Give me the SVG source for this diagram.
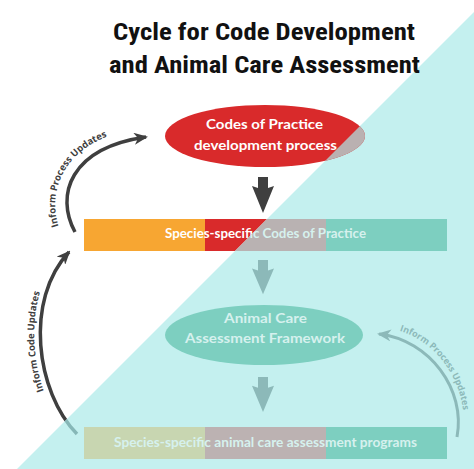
<svg xmlns="http://www.w3.org/2000/svg" width="474" height="469" viewBox="0 0 474 469">
<style>
.title{font-family:"Liberation Sans Narrow","Roboto Condensed","Liberation Sans",Arial,sans-serif;font-weight:bold;font-size:23px;fill:#111111}
.lbl{font-family:Lato,"Open Sans","Liberation Sans",sans-serif;font-weight:bold;font-size:13.5px}
.w{fill:#ffffff}
.f{fill:#d6f1ee}
.cv{font-family:"Open Sans","Liberation Sans",sans-serif;font-weight:bold;font-size:9.5px}
.dk{fill:#3f3f3f}
.ft{fill:#8cb9b9}
</style>
<defs>
<clipPath id="cw"><polygon points="0,0 474,0 474,12 17,469 0,469"/></clipPath>
<clipPath id="cc"><polygon points="474,12 474,469 17,469"/></clipPath>
<path id="darr" d="M-5,0 H5 V11 L11,9 L0,36 L-11,9 L-5,11 Z"/>
<marker id="mdk" viewBox="0 0 14 12" markerWidth="14" markerHeight="12" refX="12" refY="6" orient="auto" markerUnits="userSpaceOnUse"><path d="M0,0 L14,6 L0,12 L4,6 Z" fill="#3f3f3f"/></marker>
<marker id="mft" viewBox="0 0 14 12" markerWidth="14" markerHeight="12" refX="12" refY="6" orient="auto" markerUnits="userSpaceOnUse"><path d="M0,0 L14,6 L0,12 L4,6 Z" fill="#8cb9b9"/></marker>
<path id="tp1" d="M 60 230 C 45 192, 64 140, 136 129"/>
<path id="tp2" d="M 68 432 C 30 392, 18 300, 64 245"/>
<path id="tp3" d="M 380 327 C 435 331, 472 386, 462 438"/>
</defs>

<rect width="474" height="469" fill="#ffffff"/>
<polygon points="474,12 474,469 17,469" fill="#c4f0ef"/>

<g id="title">
<text class="title" x="113" y="40" textLength="302" lengthAdjust="spacingAndGlyphs">Cycle for Code Development</text>
<text class="title" x="109" y="73" textLength="311" lengthAdjust="spacingAndGlyphs">and Animal Care Assessment</text>
</g>

<g id="connectors">
<use href="#darr" transform="translate(263,177)" class="dk"/>
<use href="#darr" transform="translate(263,260) scale(1,0.95)" class="ft"/>
<use href="#darr" transform="translate(263,377) scale(1,0.97)" class="ft"/>
<path d="M 75 232 C 55 195, 70 148, 146 137" fill="none" stroke="#3f3f3f" stroke-width="3.5" marker-end="url(#mdk)"/>
<text class="cv dk"><textPath href="#tp1" startOffset="4">Inform Process Updates</textPath></text>
<path d="M 77 434 C 36 392, 24 300, 69 252" fill="none" stroke="#3f3f3f" stroke-width="3.5" marker-end="url(#mdk)" clip-path="url(#cw)"/>
<path d="M 77 434 C 36 392, 24 300, 69 252" fill="none" stroke="#86b7b7" stroke-width="3.5" clip-path="url(#cc)"/>
<text class="cv dk"><textPath href="#tp2" startOffset="48">Inform Code Updates</textPath></text>
<path d="M 457 437 C 466 390, 430 340, 379 334" fill="none" stroke="#8cb9b9" stroke-width="3" marker-end="url(#mft)"/>
<text class="cv ft" style="font-size:9px"><textPath href="#tp3" startOffset="20">Inform Process Updates</textPath></text>
</g>

<g id="codes-process">
<ellipse cx="265" cy="136" rx="100" ry="31" fill="#d92a2b"/>
<ellipse cx="265" cy="136" rx="100" ry="31" fill="#bab1b1" clip-path="url(#cc)"/>
<text class="lbl w" x="206" y="129" textLength="117" lengthAdjust="spacingAndGlyphs">Codes of Practice</text>
<text class="lbl w" x="194" y="150" textLength="143" lengthAdjust="spacingAndGlyphs">development process</text>
</g>

<g id="species-codes">
<rect x="84" y="219" width="122" height="32" fill="#f7a632"/>
<rect x="205" y="219" width="122" height="32" fill="#d92a2b" clip-path="url(#cw)"/>
<rect x="205" y="219" width="122" height="32" fill="#b9b2b2" clip-path="url(#cc)"/>
<rect x="326" y="219" width="121" height="32" fill="#7dcfc0"/>
<g clip-path="url(#cw)"><text class="lbl w" x="165" y="238" textLength="201" lengthAdjust="spacingAndGlyphs" style="font-size:13px">Species-specific Codes of Practice</text></g>
<g clip-path="url(#cc)"><text class="lbl f" x="165" y="238" textLength="201" lengthAdjust="spacingAndGlyphs" style="font-size:13px">Species-specific Codes of Practice</text></g>
</g>

<g id="assessment-framework">
<ellipse cx="264" cy="335" rx="99" ry="30" fill="#7dcfc0"/>
<text class="lbl f" x="224" y="323" textLength="83" lengthAdjust="spacingAndGlyphs">Animal Care</text>
<text class="lbl f" x="185" y="343" textLength="160" lengthAdjust="spacingAndGlyphs">Assessment Framework</text>
</g>

<g id="species-programs">
<rect x="84" y="427" width="122" height="32" fill="#c8d6b1"/>
<rect x="205" y="427" width="122" height="32" fill="#bcb2b2"/>
<rect x="326" y="427" width="121" height="32" fill="#7dcfc0"/>
<text class="lbl f" x="114" y="447" textLength="303" lengthAdjust="spacingAndGlyphs" style="font-size:13px">Species-specific animal care assessment programs</text>
</g>
</svg>
